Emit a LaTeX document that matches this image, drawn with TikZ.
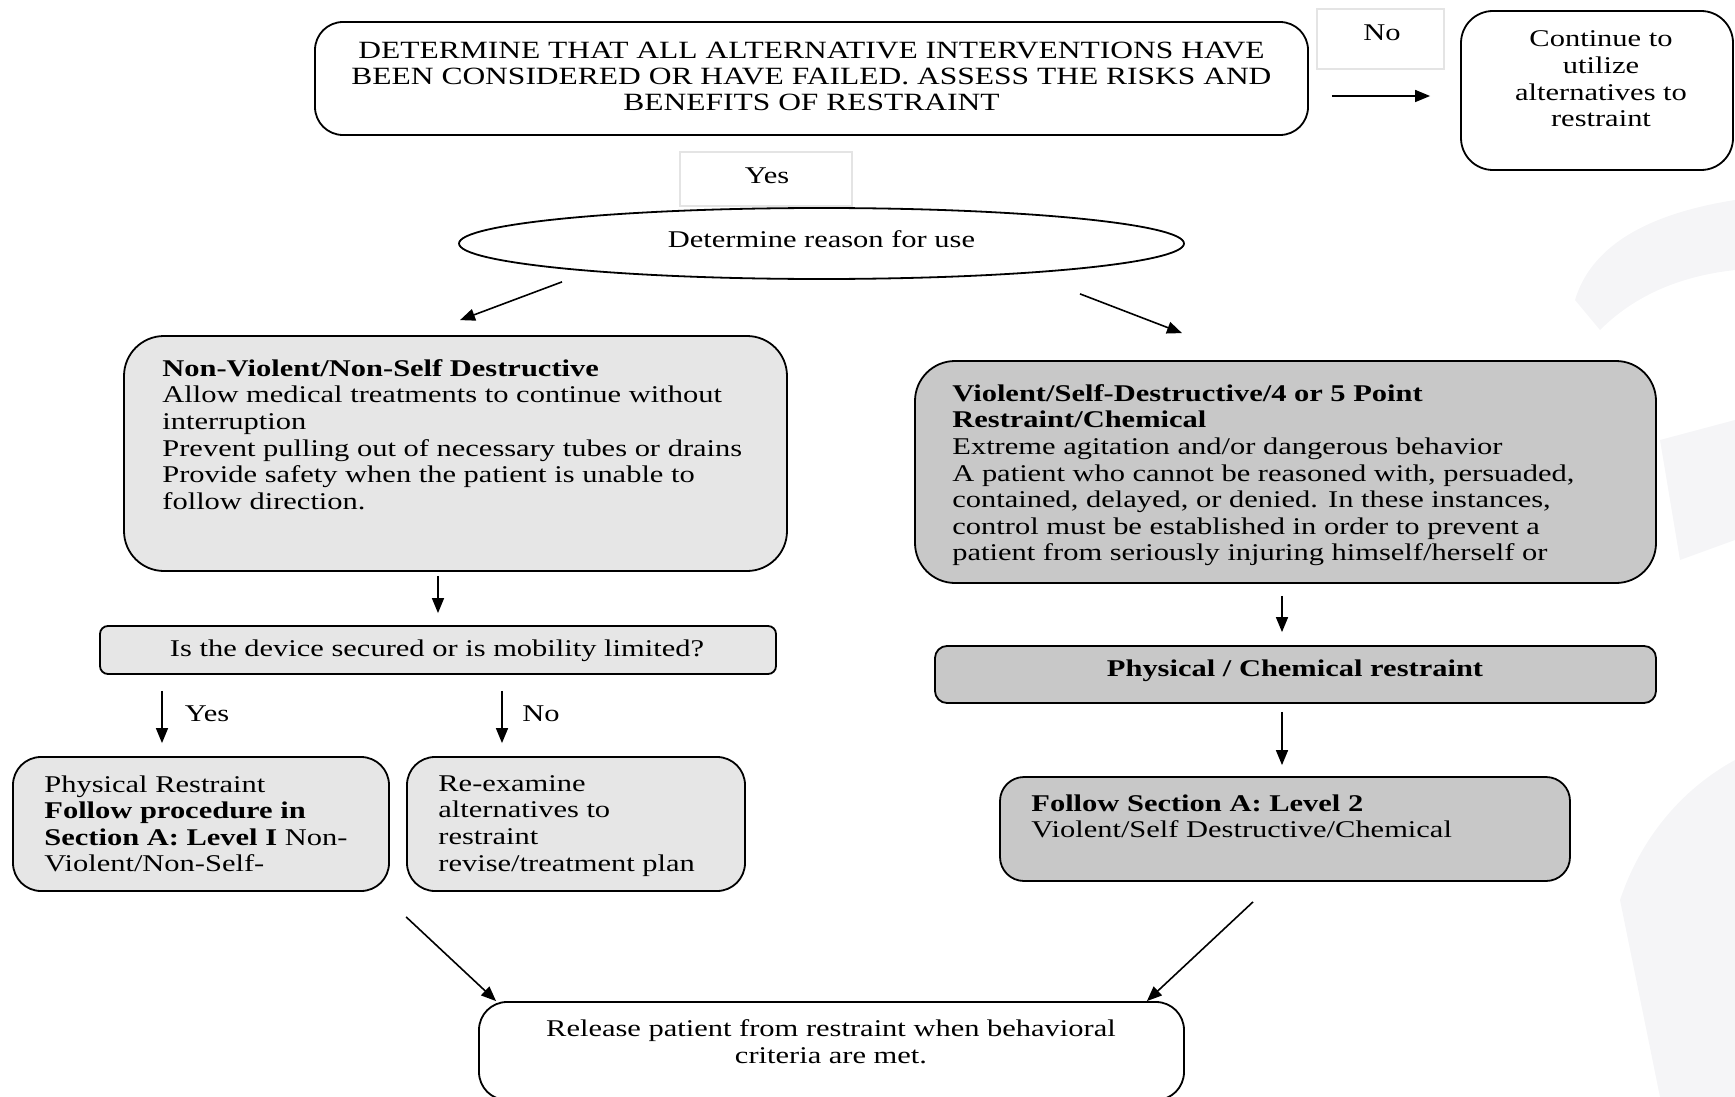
\documentclass[tikz,border=0pt]{standalone}
\usepackage{fontspec}
\setmainfont{Liberation Serif}[FakeStretch=1.27]
\usetikzlibrary{arrows.meta,shapes.geometric}
\definecolor{lightfill}{HTML}{E6E6E6}
\definecolor{darkfill}{HTML}{C8C8C8}
\definecolor{faintline}{HTML}{E4E4E4}
\definecolor{wmark}{HTML}{F5F5F7}
\tikzset{
  txt/.style={font=\fontsize{12}{13.3}\selectfont, inner sep=0pt},
  lbox/.style={draw, line width=0.9pt, rounded corners=#1, inner sep=0pt},
  lbox/.default=14pt,
  labelbox/.style={draw=faintline, line width=0.6pt, inner sep=0pt},
  arr/.style={-{Triangle[length=7.5pt,width=6pt]}, line width=0.8pt},
}
\begin{document}
\begin{tikzpicture}[x=0.5pt,y=-0.5pt]
\useasboundingbox (0,0) rectangle (1735,1097);
% faint watermark
\fill[wmark] (1735,200) .. controls (1640,215) and (1590,250) .. (1575,300) -- (1600,330) .. controls (1640,290) and (1690,275) .. (1735,270) -- cycle;
\fill[wmark] (1735,420) -- (1660,440) -- (1680,560) -- (1735,540) -- cycle;
\fill[wmark] (1735,760) .. controls (1680,790) and (1640,840) .. (1620,900) -- (1660,1097) -- (1735,1097) -- cycle;

% top box
\node[lbox, minimum width=496.5pt, minimum height=56.5pt] (top) at (811.5,78.5) {};
\node[txt, align=center, font=\fontsize{12.4}{13}\selectfont] (toptext) at (811.5,76)
  {DETERMINE THAT ALL ALTERNATIVE INTERVENTIONS HAVE\\BEEN CONSIDERED OR HAVE FAILED. ASSESS THE RISKS AND\\BENEFITS OF RESTRAINT};

% No label
\node[labelbox, minimum width=63.5pt, minimum height=30pt] (nobox) at (1380.5,39) {};
\node[txt] (notext) at (1382,33) {No};

% continue box
\node[lbox=16pt, minimum width=136pt, minimum height=79.5pt] (cont) at (1597,90.5) {};
\node[txt, align=center] (conttext) at (1601,79) {Continue to\\utilize\\alternatives to\\restraint};

% Yes label
\node[labelbox, minimum width=86pt, minimum height=27pt] (yesbox) at (766,179) {};
\node[txt] (yestext) at (767,176) {Yes};

% ellipse
\node[ellipse, draw, line width=0.9pt, minimum width=362.5pt, minimum height=35.5pt, inner sep=0pt] (ell) at (821.5,243.5) {};
\node[txt] (elltext) at (821.5,239) {Determine reason for use};

% non-violent
\node[lbox=20pt, fill=lightfill, minimum width=331.5pt, minimum height=117.5pt] (nv) at (455.5,453.5) {};
\node[txt, anchor=north west, align=left] (nvtext) at (162,359)
  {\textbf{Non-Violent/Non-Self Destructive}\\
   Allow medical treatments to continue without\\
   interruption\\
   Prevent pulling out of necessary tubes or drains\\
   Provide safety when the patient is unable to\\
   follow direction.};

% question
\node[lbox=4pt, fill=lightfill, minimum width=338pt, minimum height=24pt] (q) at (438,650) {};
\node[txt] (qtext) at (437,651) {Is the device secured or is mobility limited?};

% physical restraint (left)
\node[lbox=14pt, fill=lightfill, minimum width=188pt, minimum height=67pt] (phys) at (201,824) {};
\node[txt, anchor=north west, align=left] (phystext) at (44,775)
  {Physical Restraint\\
   \textbf{Follow procedure in}\\
   \textbf{Section A: Level I} Non-\\
   Violent/Non-Self-};

% re-examine
\node[lbox=14pt, fill=lightfill, minimum width=169pt, minimum height=67pt] (reex) at (576,824) {};
\node[txt, anchor=north west, align=left] (reextext) at (438,775)
  {Re-examine\\
   alternatives to\\
   restraint\\
   revise/treatment plan};

% violent
\node[lbox=20pt, fill=darkfill, minimum width=370.5pt, minimum height=111pt] (vio) at (1285.5,472) {};
\node[txt, anchor=north west, align=left] (viotext) at (952,384)
  {\textbf{Violent/Self-Destructive/4 or 5 Point}\\
   \textbf{Restraint/Chemical}\\
   Extreme agitation and/or dangerous behavior\\
   A patient who cannot be reasoned with, persuaded,\\
   contained, delayed, or denied. In these instances,\\
   control must be established in order to prevent a\\
   patient from seriously injuring himself/herself or};

% physical / chemical
\node[lbox=6pt, fill=darkfill, minimum width=360.5pt, minimum height=28.5pt] (pc) at (1295.5,674.5) {};
\node[txt, font=\fontsize{12}{13.3}\bfseries] (pctext) at (1295,671) {Physical / Chemical restraint};

% follow section A level 2
\node[lbox=12pt, fill=darkfill, minimum width=285pt, minimum height=52pt] (fol) at (1285,829) {};
\node[txt, anchor=north west, align=left] (foltext) at (1031,794)
  {\textbf{Follow Section A: Level 2}\\
   Violent/Self Destructive/Chemical};

% release
\node[lbox=14pt, minimum width=352.5pt, minimum height=49pt] (rel) at (831.5,1051) {};
\node[txt, align=center] (reltext) at (831,1042)
  {Release patient from restraint when behavioral\\criteria are met.};

% connectors
\draw[arr] ([shift={(11.5pt,-8.75pt)}]top.east) -- ([shift={(-15pt,-2.75pt)}]cont.west);
\draw[arr] ([shift={(-129.75pt,-1pt)}]ell.south) -- ([shift={(2.25pt,7.5pt)}]nv.north);
\draw[arr] ([shift={(129.25pt,-7pt)}]ell.south) -- ([shift={(-51.75pt,13.5pt)}]vio.north);
\draw[arr] ([shift={(-8.75pt,-2pt)}]nv.south) -- ([shift={(0pt,6pt)}]q.north);
\draw[arr] ([shift={(-138pt,-8pt)}]q.south) -- ([shift={(-19.5pt,6.5pt)}]phys.north);
\node[txt] (yeslbl) at (207,714) {Yes};
\draw[arr] ([shift={(32pt,-8pt)}]q.south) -- ([shift={(-37pt,6.5pt)}]reex.north);
\node[txt] (nolbl) at (541,714) {No};
\draw[arr] ([shift={(-1.75pt,-6pt)}]vio.south) -- ([shift={(-6.75pt,6.5pt)}]pc.north);
\draw[arr] ([shift={(-6.75pt,-4pt)}]pc.south) -- ([shift={(-1.5pt,5.5pt)}]fol.north);
\draw[arr] ([yshift=-12.5pt]reex.south west) -- ([xshift=9pt]rel.north west);
\draw[arr] ([shift={(-16pt,-10pt)}]fol.south) -- ([xshift=-19pt]rel.north east);
\end{tikzpicture}
\end{document}
